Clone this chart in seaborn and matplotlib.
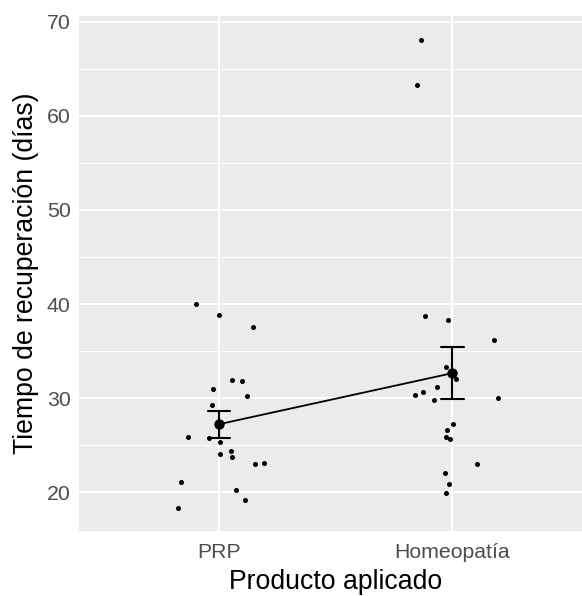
import numpy as np
import pandas as pd
import matplotlib
matplotlib.use("Agg")
import matplotlib.pyplot as plt
from matplotlib.ticker import MultipleLocator
import seaborn as sns

# datos
productos = ["PRP", "Homeopatía"]

prp_dias = [40.0, 38.82, 37.59, 31.92, 31.78, 30.93, 30.22, 29.31, 25.87, 25.73,
            25.34, 24.11, 24.35, 23.79, 22.97, 23.11, 21.14, 20.21, 19.22, 18.30]
prp_jitter = [-0.100, 0.001, 0.147, 0.057, 0.097, -0.024, 0.119, -0.030, -0.132, -0.043,
              0.004, 0.004, 0.052, 0.057, 0.156, 0.194, -0.164, 0.073, 0.113, -0.177]

homeo_dias = [68.06, 63.31, 38.76, 38.26, 36.14, 33.30, 32.07, 31.22, 30.30, 30.62,
              29.77, 30.01, 27.25, 26.66, 25.87, 25.70, 23.05, 22.05, 20.88, 19.93]
homeo_jitter = [-0.134, -0.153, -0.119, -0.020, 0.179, -0.026, 0.016, -0.066, -0.159, -0.126,
                -0.079, 0.197, 0.004, -0.023, -0.029, -0.010, 0.106, -0.031, -0.014, -0.026]

df = pd.DataFrame({
    "Producto": [productos[0]] * len(prp_dias) + [productos[1]] * len(homeo_dias),
    "Tiempo": prp_dias + homeo_dias,
    "Jitter": prp_jitter + homeo_jitter,
})
df["Pos"] = df["Producto"].map({p: i for i, p in enumerate(productos)}) + df["Jitter"]

sns.set_theme(style="darkgrid", rc={
    "axes.facecolor": "#EBEBEB",
    "grid.color": "white",
    "axes.edgecolor": "none",
})
plt.rcParams["font.family"] = ["Liberation Sans", "DejaVu Sans"]

W, H = 582, 596
fig = plt.figure(figsize=(W / 100, H / 100), dpi=100)
ax = fig.add_axes([79 / W, 1 - 531 / H, 2.2 * 233.4 / W, (531 - 16) / H])

sns.scatterplot(data=df, x="Pos", y="Tiempo", color="black", s=13,
                linewidth=0, ax=ax, zorder=3)
sns.pointplot(data=df, x="Producto", y="Tiempo", order=productos, errorbar="se",
              color="black", capsize=0.095, markersize=6.5, linewidth=1.3,
              err_kws={"linewidth": 1.5}, ax=ax, zorder=4)

ax.set_xlim(-0.6, 1.6)
ax.set_ylim(15.89, 70.6)
ax.set_xticks([0, 1])
ax.set_xticklabels(productos)
ax.yaxis.set_major_locator(MultipleLocator(10))
ax.yaxis.set_minor_locator(MultipleLocator(5))
ax.grid(True, which="major", color="white", linewidth=1.5)
ax.grid(True, which="minor", axis="y", color="white", linewidth=0.75)
ax.set_axisbelow(True)
for s in ax.spines.values():
    s.set_visible(False)
ax.tick_params(which="major", length=4, width=1, color="#333333",
               labelcolor="#4D4D4D", labelsize=15.3, pad=2)
ax.tick_params(axis="x", which="major", pad=4.5)
ax.tick_params(which="minor", length=0)

ax.set_xlabel("Producto aplicado", fontsize=19.2, color="black", labelpad=5.5)
ax.set_ylabel("Tiempo de recuperación (días)", fontsize=19.2, color="black", labelpad=6)

fig.savefig("out.png", dpi=100)
